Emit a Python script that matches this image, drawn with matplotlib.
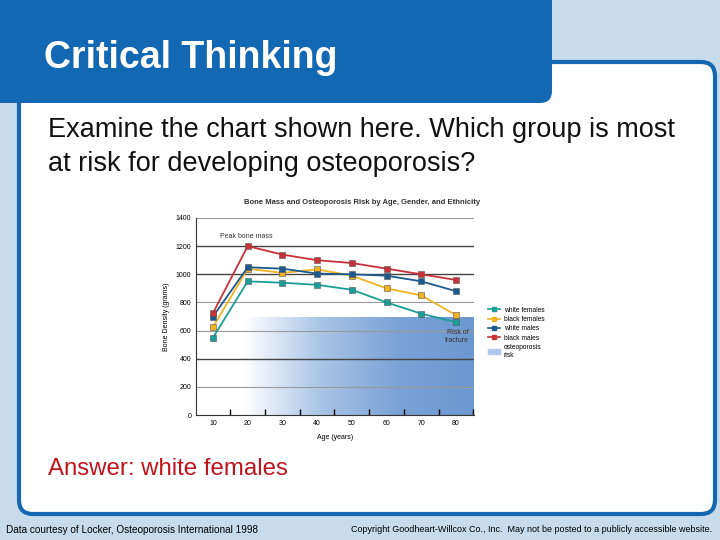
import matplotlib
matplotlib.use("Agg")
import matplotlib.pyplot as plt
import numpy as np
from matplotlib.patches import FancyBboxPatch, Patch
from matplotlib.lines import Line2D
from matplotlib.colors import LinearSegmentedColormap

plt.rcParams['font.family'] = ['Liberation Sans', 'DejaVu Sans']

ages = [10, 20, 30, 40, 50, 60, 70, 80]
white_females = [550, 950, 940, 925, 890, 800, 720, 660]
black_females = [625, 1040, 1010, 1035, 990, 900, 850, 710]
white_males = [700, 1050, 1040, 1005, 1000, 990, 950, 880]
black_males = [725, 1200, 1140, 1100, 1080, 1040, 1000, 960]
series_names = ["white females", "black females", "white males", "black males"]
colors = ["#1a9e97", "#f0b323", "#1a5a8e", "#c8313a"]
yticks = [0, 200, 400, 600, 800, 1000, 1200, 1400]

fig = plt.figure(figsize=(7.2, 5.4), dpi=100)
fig.patch.set_facecolor("#c8dbeb")
bg = fig.add_axes([0, 0, 1, 1])
bg.set_xlim(0, 720); bg.set_ylim(540, 0); bg.axis("off")

bg.add_patch(FancyBboxPatch((19, 62), 696, 452, boxstyle="round,pad=0,rounding_size=14",
                            fc="white", ec="#1467b0", lw=3))
bg.add_patch(FancyBboxPatch((-20, -20), 572, 123, boxstyle="round,pad=0,rounding_size=12",
                            fc="#1268b3", ec="none"))
bg.text(44, 58, "Critical Thinking", color="white", fontsize=27, fontweight="bold", va="center")
bg.text(48, 130, "Examine the chart shown here. Which group is most", fontsize=19.5, va="center", color="#111")
bg.text(48, 164, "at risk for developing osteoporosis?", fontsize=19.5, va="center", color="#111")
bg.text(48, 469, "Answer: white females", fontsize=17.3, va="center", color="#c0141c")
bg.text(6, 530, "Data courtesy of Locker, Osteoporosis International 1998", fontsize=7.2, va="center")
bg.text(712, 530, "Copyright Goodheart-Willcox Co., Inc.  May not be posted to a publicly accessible website.",
        fontsize=6.5, va="center", ha="right")
bg.text(362, 202, "Bone Mass and Osteoporosis Risk by Age, Gender, and Ethnicity",
        fontsize=5.5, fontweight="bold", ha="center", va="center", color="#333")

ax = fig.add_axes([196/720, 1-415/540, 278/720, 197/540])
ax.set_xlim(5.1, 85.2); ax.set_ylim(0, 1400)
grad = np.linspace(0, 1, 256)[None, :]
cm = LinearSegmentedColormap.from_list("g", ["#ffffff", "#a9c4e6", "#7aa3d6", "#6c98d0"])
ax.imshow(grad, extent=[19, 85.2, 0, 690], aspect="auto", cmap=cm, zorder=0)
for y in yticks[1:]:
    dark = y in (400, 1000, 1200)
    ax.axhline(y, color="#444" if dark else "#999", lw=1.0 if dark else 0.8, zorder=1)
for vals, c, n in zip([white_females, black_females, white_males, black_males], colors, series_names):
    ax.plot(ages, vals, color=c, marker="s", ms=4, mec="#555", mew=0.4, lw=1.3, zorder=3, label=n)
ax.set_yticks(yticks)
ax.set_xticks(ages)
ax.set_xticks([15, 25, 35, 45, 55, 65, 75, 85], minor=True)
ax.tick_params(axis="x", which="minor", direction="in", length=4, width=1)
ax.tick_params(axis="x", which="major", length=0, labelsize=5)
ax.tick_params(axis="y", length=0, labelsize=5)
for s in ["top", "right"]:
    ax.spines[s].set_visible(False)
ax.spines["left"].set_color("#333"); ax.spines["bottom"].set_color("#333")
ax.set_xlabel("Age (years)", fontsize=5, labelpad=5)
ax.set_ylabel("Bone Density (grams)", fontsize=5, labelpad=4)
ax.text(12, 1260, "Peak bone mass", fontsize=5, ha="left", color="#333")
ax.text(83.8, 520, "Risk of\nfracture", fontsize=5, ha="right", color="#333", linespacing=1.1)

handles = [Line2D([], [], color=c, marker="s", ms=3, lw=1.2) for c in colors]
handles.append(Patch(color="#b0c9e8"))
ax.legend(handles, series_names + ["osteoporosis\nrisk"], loc="upper left",
          bbox_to_anchor=(1.03, 0.58), frameon=False, fontsize=4.8,
          handlelength=1.8, labelspacing=0.35, handletextpad=0.5)

fig.savefig("out.png", dpi=100, facecolor=fig.get_facecolor())
